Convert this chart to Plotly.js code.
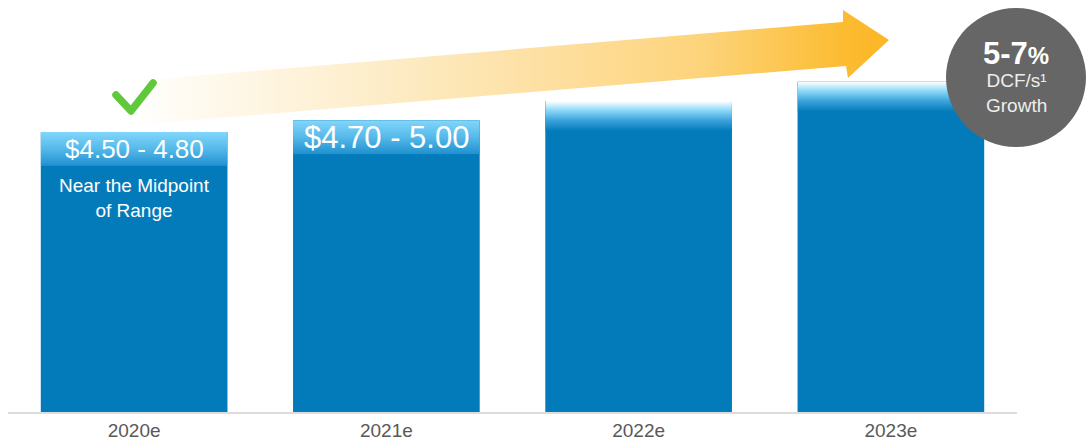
<!DOCTYPE html>
<html>
<head>
<meta charset="utf-8">
<script src="https://cdn.plot.ly/plotly-3.0.1.min.js"></script>
<style>html,body{margin:0;padding:0;background:#fff;}#chart{width:1087px;height:442px;}</style>
</head>
<body>
<div id="chart"></div>
<script>
// ---- data ----
const categories = ["2020e", "2021e", "2022e", "2023e"];
const barValues = [4.80, 5.00, 5.33, 5.66];          // bar heights (upper end of range)
const rangeLabels = ["$4.50 - 4.80", "$4.70 - 5.00", "", ""];
const noteLabel = "Near the Midpoint<br>of Range";
const growthHead = "5-7";
const growthSub = "DCF/s\u00b9<br>Growth";

// ---- geometry helpers ----
const W = 1087, H = 442;
const M = {l: 8, r: 70, t: 0, b: 30};
const plotW = W - M.l - M.r, plotH = H - M.t - M.b;
const yMax = 7.06;
const pxPerUnit = plotH / yMax;
const BARW = 0.74;
const BLUE = "#037bbb";
const FONT = "Liberation Sans, Arial, sans-serif";

function svgURI(s){ return "data:image/svg+xml;charset=utf-8," + encodeURIComponent(s); }
function gradSVG(stops){
  const st = stops.map(s => `<stop offset='${s[0]}' stop-color='${s[1]}'/>`).join("");
  return svgURI(`<svg xmlns='http://www.w3.org/2000/svg' width='100' height='100' viewBox='0 0 100 100' preserveAspectRatio='none'><defs><linearGradient id='g' x1='0' y1='0' x2='0' y2='1'>${st}</linearGradient></defs><rect width='100' height='100' fill='url(#g)'/></svg>`);
}
const boxGrad = gradSVG([[0,"#82d6fb"],[0.5,"#55b9ea"],[1,"#1f90cf"]]);
const fadeGrad = gradSVG([[0,"#ffffff"],[0.08,"#e3f6fe"],[0.3,"#8fdaf9"],[0.65,"#3aa2db"],[1,BLUE]]);

const xs = categories.map((c,i)=>i);
const trace = {
  type: "bar", x: xs, y: barValues, width: BARW,
  marker: {color: BLUE, line: {width: 0}},
  hoverinfo: "skip", showlegend: false
};

const images = [];
const annotations = [];
barValues.forEach((v,i)=>{
  if (rangeLabels[i]) {
    images.push({source: boxGrad, xref:"x", yref:"y", x: i - BARW/2, y: v,
      sizex: BARW, sizey: 34/pxPerUnit, xanchor:"left", yanchor:"top", sizing:"stretch", layer:"above"});
    annotations.push({x: i, y: v, xref:"x", yref:"y", yshift: -17, xanchor:"center", yanchor:"middle", showarrow:false,
      text: rangeLabels[i], font:{family:FONT, size: i===0 ? 26 : 31, color:"#ffffff"}});
  } else {
    images.push({source: fadeGrad, xref:"x", yref:"y", x: i - BARW/2, y: v,
      sizex: BARW, sizey: 30/pxPerUnit, xanchor:"left", yanchor:"top", sizing:"stretch", layer:"above"});
  }
});
annotations.push({x: 0, y: barValues[0], xref:"x", yref:"y", yshift: -66, xanchor:"center", yanchor:"middle", showarrow:false,
  text: noteLabel, font:{family:FONT, size:19, color:"#ffffff"}});

// decoration: arrow and check mark (pixel coordinates over full figure)
const deco = svgURI(`<svg xmlns='http://www.w3.org/2000/svg' width='${W}' height='${H}' viewBox='0 0 ${W} ${H}' preserveAspectRatio='none'>
<defs><linearGradient id='a' gradientUnits='userSpaceOnUse' x1='120' y1='0' x2='889' y2='0'>
<stop offset='0' stop-color='#ffffff' stop-opacity='0'/>
<stop offset='0.065' stop-color='#fffcf5'/>
<stop offset='0.364' stop-color='#fdebc4'/>
<stop offset='0.754' stop-color='#fdd47c'/>
<stop offset='0.94' stop-color='#fcbc32'/>
<stop offset='1' stop-color='#fdb524'/>
</linearGradient></defs>
<polygon points='120,82 843,22 843,10 889,40 848,78 846,66 120,126' fill='url(#a)'/>
<polyline points='116,95 131,111 153,83' fill='none' stroke='#5fc93b' stroke-width='7.5' stroke-linecap='round' stroke-linejoin='round'/>
</svg>`);
images.push({source: deco, xref:"paper", yref:"paper", x: -M.l/plotW, y: 1 + M.t/plotH,
  sizex: W/plotW, sizey: H/plotH, xanchor:"left", yanchor:"top", sizing:"stretch", layer:"above"});

// circle badge
const px = x => (x - M.l)/plotW, py = y => (M.t + plotH - y)/plotH;
const shapes = [{type:"circle", xref:"paper", yref:"paper", x0: px(946), x1: px(1086), y0: py(147), y1: py(8),
  fillcolor:"#666666", line:{width:0}, layer:"above"}];
annotations.push({xref:"paper", yref:"paper", x: px(1016), y: py(53), showarrow:false, xanchor:"center", yanchor:"middle",
  text: "<b>" + growthHead + "<span style='font-size:24px'>%</span></b>", font:{family:FONT, size:31, color:"#ffffff"}});
annotations.push({xref:"paper", yref:"paper", x: px(1016), y: py(93), showarrow:false, xanchor:"center", yanchor:"middle",
  text: growthSub, font:{family:FONT, size:19, color:"#eeeeee"}});

const layout = {
  width: W, height: H, margin: M,
  paper_bgcolor:"#ffffff", plot_bgcolor:"rgba(0,0,0,0)",
  xaxis: {range:[-0.5, 3.5], tickvals: xs, ticktext: categories, showgrid:false, zeroline:false,
    showline:true, linecolor:"#dcdcdc", linewidth:2, ticks:"", fixedrange:true,
    tickfont:{family:FONT, size:19, color:"#595959"}},
  yaxis: {range:[0, yMax], visible:false, fixedrange:true},
  images, annotations, shapes, showlegend:false
};
Plotly.newPlot("chart", [trace], layout, {displayModeBar:false, staticPlot:true});
</script>
</body>
</html>
